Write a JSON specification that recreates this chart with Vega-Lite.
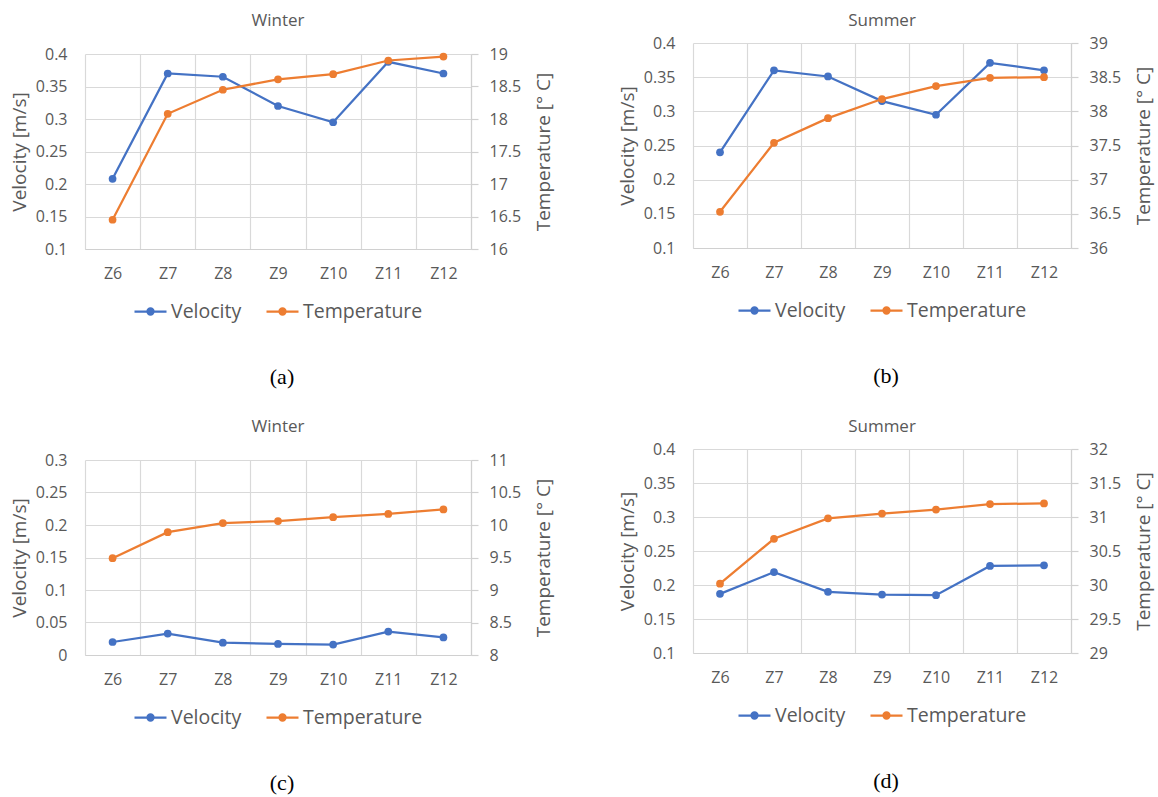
{
  "$schema": "https://vega.github.io/schema/vega-lite/v6.json",
  "padding": {"left": 10, "top": 11, "right": 5, "bottom": 5},
  "background": "white",
  "datasets": {
    "a": [
      {"zone": "Z6", "velocity": 0.208, "temperature": 16.45},
      {"zone": "Z7", "velocity": 0.370, "temperature": 18.08},
      {"zone": "Z8", "velocity": 0.365, "temperature": 18.45},
      {"zone": "Z9", "velocity": 0.320, "temperature": 18.61},
      {"zone": "Z10", "velocity": 0.295, "temperature": 18.69},
      {"zone": "Z11", "velocity": 0.388, "temperature": 18.90},
      {"zone": "Z12", "velocity": 0.370, "temperature": 18.96}
    ],
    "b": [
      {"zone": "Z6", "velocity": 0.240, "temperature": 36.53},
      {"zone": "Z7", "velocity": 0.360, "temperature": 37.54},
      {"zone": "Z8", "velocity": 0.351, "temperature": 37.90},
      {"zone": "Z9", "velocity": 0.315, "temperature": 38.18},
      {"zone": "Z10", "velocity": 0.295, "temperature": 38.37},
      {"zone": "Z11", "velocity": 0.371, "temperature": 38.49},
      {"zone": "Z12", "velocity": 0.360, "temperature": 38.50}
    ],
    "c": [
      {"zone": "Z6", "velocity": 0.020, "temperature": 9.49},
      {"zone": "Z7", "velocity": 0.033, "temperature": 9.89},
      {"zone": "Z8", "velocity": 0.019, "temperature": 10.03},
      {"zone": "Z9", "velocity": 0.017, "temperature": 10.06},
      {"zone": "Z10", "velocity": 0.016, "temperature": 10.12},
      {"zone": "Z11", "velocity": 0.036, "temperature": 10.17},
      {"zone": "Z12", "velocity": 0.027, "temperature": 10.24}
    ],
    "d": [
      {"zone": "Z6", "velocity": 0.187, "temperature": 30.02},
      {"zone": "Z7", "velocity": 0.219, "temperature": 30.68},
      {"zone": "Z8", "velocity": 0.190, "temperature": 30.98},
      {"zone": "Z9", "velocity": 0.186, "temperature": 31.05},
      {"zone": "Z10", "velocity": 0.185, "temperature": 31.11},
      {"zone": "Z11", "velocity": 0.228, "temperature": 31.19},
      {"zone": "Z12", "velocity": 0.229, "temperature": 31.20}
    ],
    "empty": []
  },
  "resolve": {"scale": {"color": "independent"}, "legend": {"color": "independent"}},
  "spacing": 29,
  "vconcat": [
    {
      "spacing": 64,
      "resolve": {"scale": {"color": "independent"}, "legend": {"color": "independent"}},
      "hconcat": [
        {
          "title": {"text": "(a)", "orient": "bottom", "anchor": "middle", "offset": 46, "font": "Liberation Serif", "fontSize": 22, "fontWeight": "normal", "color": "#000000"},
          "spacing": 0,
          "resolve": {"scale": {"color": "independent"}, "legend": {"color": "independent"}},
          "vconcat": [
            {"width": 10, "height": 1, "data": {"name": "empty"}, "mark": "point"},
            {
            "width": 386, "height": 195,
            "title": {"text": "Winter", "offset": 16, "fontSize": 17, "fontWeight": "normal", "color": "#595959", "anchor": "middle"},
            "data": {"name": "a"},
            "encoding": {"x": {"field": "zone", "type": "nominal", "sort": null, "scale": {"type": "band", "paddingInner": 0, "paddingOuter": 0}, "axis": {"title": null, "labelAngle": 0, "ticks": false, "tickBand": "extent", "grid": true, "domain": true, "labelPadding": 16}}},
            "layer": [
              {"mark": {"type": "line", "point": {"filled": true, "size": 60}, "strokeWidth": 2.25},
               "encoding": {
                 "y": {"field": "velocity", "type": "quantitative", "scale": {"domain": [0.1, 0.4], "nice": false, "zero": false}, "axis": {"orient": "left", "values": [0.1, 0.15, 0.2, 0.25, 0.3, 0.35, 0.4], "format": "~g", "ticks": false, "domain": false, "grid": true, "labelPadding": 18, "titlePadding": 6, "title": "Velocity [m/s]"}},
                 "color": {"datum": "Velocity", "scale": {"domain": ["Velocity", "Temperature"], "range": ["#4472C4", "#ED7D31"]}, "legend": {"title": null, "orient": "bottom", "direction": "horizontal", "offset": 13}}
               }},
              {"mark": {"type": "line", "point": {"filled": true, "size": 60}, "strokeWidth": 2.25},
               "encoding": {
                 "y": {"field": "temperature", "type": "quantitative", "scale": {"domain": [16, 19], "nice": false, "zero": false}, "axis": {"orient": "right", "values": [16, 16.5, 17, 17.5, 18, 18.5, 19], "format": "~g", "ticks": true, "tickSize": 7, "domain": true, "grid": false, "labelPadding": 11, "titleAngle": 270, "titlePadding": 33, "title": "Temperature [° C]"}},
                 "color": {"datum": "Temperature"}
               }}
            ],
            "resolve": {"scale": {"y": "independent"}}
          }]
        },
        {
          "title": {"text": "(b)", "orient": "bottom", "anchor": "middle", "offset": 46, "font": "Liberation Serif", "fontSize": 22, "fontWeight": "normal", "color": "#000000"},
          "spacing": 0,
          "resolve": {"scale": {"color": "independent"}, "legend": {"color": "independent"}},
          "vconcat": [
            {"width": 10, "height": 1, "data": {"name": "empty"}, "mark": "point"},
            {
            "width": 378, "height": 205,
            "title": {"text": "Summer", "offset": 5, "fontSize": 17, "fontWeight": "normal", "color": "#595959", "anchor": "middle"},
            "data": {"name": "b"},
            "encoding": {"x": {"field": "zone", "type": "nominal", "sort": null, "scale": {"type": "band", "paddingInner": 0, "paddingOuter": 0}, "axis": {"title": null, "labelAngle": 0, "ticks": false, "tickBand": "extent", "grid": true, "domain": true, "labelPadding": 16}}},
            "layer": [
              {"mark": {"type": "line", "point": {"filled": true, "size": 60}, "strokeWidth": 2.25},
               "encoding": {
                 "y": {"field": "velocity", "type": "quantitative", "scale": {"domain": [0.1, 0.4], "nice": false, "zero": false}, "axis": {"orient": "left", "values": [0.1, 0.15, 0.2, 0.25, 0.3, 0.35, 0.4], "format": "~g", "ticks": false, "domain": false, "grid": true, "labelPadding": 18, "titlePadding": 6, "title": "Velocity [m/s]"}},
                 "color": {"datum": "Velocity", "scale": {"domain": ["Velocity", "Temperature"], "range": ["#4472C4", "#ED7D31"]}, "legend": {"title": null, "orient": "bottom", "direction": "horizontal", "offset": 13}}
               }},
              {"mark": {"type": "line", "point": {"filled": true, "size": 60}, "strokeWidth": 2.25},
               "encoding": {
                 "y": {"field": "temperature", "type": "quantitative", "scale": {"domain": [36, 39], "nice": false, "zero": false}, "axis": {"orient": "right", "values": [36, 36.5, 37, 37.5, 38, 38.5, 39], "format": "~g", "ticks": true, "tickSize": 7, "domain": true, "grid": false, "labelPadding": 11, "titleAngle": 270, "titlePadding": 33, "title": "Temperature [° C]"}},
                 "color": {"datum": "Temperature"}
               }}
            ],
            "resolve": {"scale": {"y": "independent"}}
          }]
        }
      ]
    },
    {
      "spacing": 64,
      "resolve": {"scale": {"color": "independent"}, "legend": {"color": "independent"}},
      "hconcat": [
        {
          "title": {"text": "(c)", "orient": "bottom", "anchor": "middle", "offset": 46, "font": "Liberation Serif", "fontSize": 22, "fontWeight": "normal", "color": "#000000"},
          "spacing": 0,
          "resolve": {"scale": {"color": "independent"}, "legend": {"color": "independent"}},
          "vconcat": [
            {"width": 10, "height": 1, "data": {"name": "empty"}, "mark": "point"},
            {
            "width": 386, "height": 195,
            "title": {"text": "Winter", "offset": 16, "fontSize": 17, "fontWeight": "normal", "color": "#595959", "anchor": "middle"},
            "data": {"name": "c"},
            "encoding": {"x": {"field": "zone", "type": "nominal", "sort": null, "scale": {"type": "band", "paddingInner": 0, "paddingOuter": 0}, "axis": {"title": null, "labelAngle": 0, "ticks": false, "tickBand": "extent", "grid": true, "domain": true, "labelPadding": 16}}},
            "layer": [
              {"mark": {"type": "line", "point": {"filled": true, "size": 60}, "strokeWidth": 2.25},
               "encoding": {
                 "y": {"field": "velocity", "type": "quantitative", "scale": {"domain": [0, 0.3], "nice": false, "zero": false}, "axis": {"orient": "left", "values": [0, 0.05, 0.1, 0.15, 0.2, 0.25, 0.3], "format": "~g", "ticks": false, "domain": false, "grid": true, "labelPadding": 18, "titlePadding": 6, "title": "Velocity [m/s]"}},
                 "color": {"datum": "Velocity", "scale": {"domain": ["Velocity", "Temperature"], "range": ["#4472C4", "#ED7D31"]}, "legend": {"title": null, "orient": "bottom", "direction": "horizontal", "offset": 13}}
               }},
              {"mark": {"type": "line", "point": {"filled": true, "size": 60}, "strokeWidth": 2.25},
               "encoding": {
                 "y": {"field": "temperature", "type": "quantitative", "scale": {"domain": [8, 11], "nice": false, "zero": false}, "axis": {"orient": "right", "values": [8, 8.5, 9, 9.5, 10, 10.5, 11], "format": "~g", "ticks": true, "tickSize": 7, "domain": true, "grid": false, "labelPadding": 11, "titleAngle": 270, "titlePadding": 33, "title": "Temperature [° C]"}},
                 "color": {"datum": "Temperature"}
               }}
            ],
            "resolve": {"scale": {"y": "independent"}}
          }]
        },
        {
          "title": {"text": "(d)", "orient": "bottom", "anchor": "middle", "offset": 46, "font": "Liberation Serif", "fontSize": 22, "fontWeight": "normal", "color": "#000000"},
          "spacing": 0,
          "resolve": {"scale": {"color": "independent"}, "legend": {"color": "independent"}},
          "vconcat": [
            {"width": 10, "height": 1, "data": {"name": "empty"}, "mark": "point"},
            {
            "width": 378, "height": 204,
            "title": {"text": "Summer", "offset": 5, "fontSize": 17, "fontWeight": "normal", "color": "#595959", "anchor": "middle"},
            "data": {"name": "d"},
            "encoding": {"x": {"field": "zone", "type": "nominal", "sort": null, "scale": {"type": "band", "paddingInner": 0, "paddingOuter": 0}, "axis": {"title": null, "labelAngle": 0, "ticks": false, "tickBand": "extent", "grid": true, "domain": true, "labelPadding": 16}}},
            "layer": [
              {"mark": {"type": "line", "point": {"filled": true, "size": 60}, "strokeWidth": 2.25},
               "encoding": {
                 "y": {"field": "velocity", "type": "quantitative", "scale": {"domain": [0.1, 0.4], "nice": false, "zero": false}, "axis": {"orient": "left", "values": [0.1, 0.15, 0.2, 0.25, 0.3, 0.35, 0.4], "format": "~g", "ticks": false, "domain": false, "grid": true, "labelPadding": 18, "titlePadding": 6, "title": "Velocity [m/s]"}},
                 "color": {"datum": "Velocity", "scale": {"domain": ["Velocity", "Temperature"], "range": ["#4472C4", "#ED7D31"]}, "legend": {"title": null, "orient": "bottom", "direction": "horizontal", "offset": 13}}
               }},
              {"mark": {"type": "line", "point": {"filled": true, "size": 60}, "strokeWidth": 2.25},
               "encoding": {
                 "y": {"field": "temperature", "type": "quantitative", "scale": {"domain": [29, 32], "nice": false, "zero": false}, "axis": {"orient": "right", "values": [29, 29.5, 30, 30.5, 31, 31.5, 32], "format": "~g", "ticks": true, "tickSize": 7, "domain": true, "grid": false, "labelPadding": 11, "titleAngle": 270, "titlePadding": 33, "title": "Temperature [° C]"}},
                 "color": {"datum": "Temperature"}
               }}
            ],
            "resolve": {"scale": {"y": "independent"}}
          }]
        }
      ]
    }
  ],
  "config": {
    "font": "Open Sans",
    "view": {"stroke": null},
    "axis": {"labelColor": "#595959", "titleColor": "#595959", "labelFontSize": 16, "titleFontSize": 19, "titleFontWeight": "normal", "gridColor": "#D9D9D9", "gridWidth": 1.2, "domainColor": "#D0D0D0", "domainWidth": 1.2, "tickColor": "#D0D0D0", "tickWidth": 1.2},
    "title": {"color": "#595959", "fontSize": 17, "fontWeight": "normal"},
    "legend": {
      "symbolType": "M-1,0L1,0M-0.19,0a0.19,0.19 0 1,0 0.38,0a0.19,0.19 0 1,0 -0.38,0M-0.094,0a0.094,0.094 0 1,0 0.188,0a0.094,0.094 0 1,0 -0.188,0M-0.03,0a0.03,0.03 0 1,0 0.06,0a0.03,0.03 0 1,0 -0.06,0",
      "symbolSize": 1024,
      "symbolStrokeWidth": 2.25,
      "labelFontSize": 19.5,
      "labelColor": "#595959",
      "labelOffset": 3,
      "columnPadding": 20,
      "padding": 0,
      "layout": {"bottom": {"anchor": "middle"}}
    }
  }
}
